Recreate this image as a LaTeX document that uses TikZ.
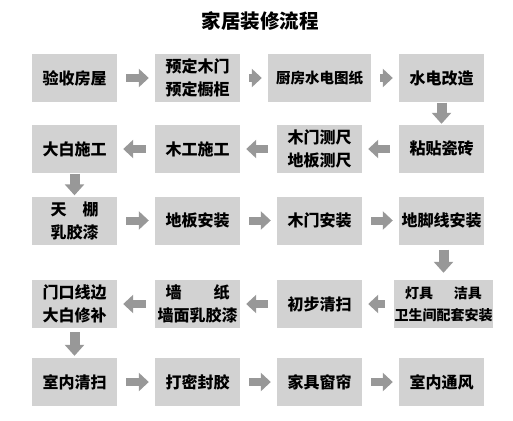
\documentclass[tikz,border=0pt]{standalone}
\usepackage{fontspec}
\setmainfont{Noto Sans CJK SC}
\usetikzlibrary{arrows.meta}
\definecolor{boxgray}{RGB}{210,210,210}
\definecolor{arrowgray}{RGB}{152,152,152}
\tikzset{
  stepbox/.style={fill=boxgray, minimum width=85pt, minimum height=48pt, inner sep=0pt,
    align=center, font=\fontsize{16}{23}\selectfont\bfseries},
  harrow/.style={draw=arrowgray, line width=8pt, -{Triangle[width=18pt,length=10pt]},
    shorten <=9pt, shorten >=6pt},
  varrow/.style={draw=arrowgray, line width=10pt, -{Triangle[width=19pt,length=11pt]},
    shorten <=0.5pt, shorten >=1pt}
}
\begin{document}
\begin{tikzpicture}[x=1pt,y=-1pt]
\useasboundingbox (0,0) rectangle (513,420);
% Title
\node[font=\fontsize{19.5}{24}\selectfont\bfseries] (title) at (260,21.5) {家居装修流程};

% Row 1
\node[stepbox] (yanshou) at (74.5,78) {验收房屋};
\node[stepbox] (yuding) at (197.5,78) {预定木门\\预定橱柜};
\node[stepbox, minimum width=103pt, font=\fontsize{14.5}{20}\selectfont\bfseries] (tuzhi) at (319.5,78) {厨房水电图纸};
\node[stepbox] (shuidian) at (441.5,78) {水电改造};

% Row 2
\node[stepbox] (cizhuan) at (441.5,149) {粘贴瓷砖};
\node[stepbox] (cechi) at (319.5,149) {木门测尺\\地板测尺};
\node[stepbox] (mugong) at (197.5,149) {木工施工};
\node[stepbox] (dabai) at (74.5,149) {大白施工};

% Row 3
\node[stepbox] (tianpeng) at (74.5,220.5) {天\hspace{1em}棚\\乳胶漆};
\node[stepbox] (diban) at (197.5,220.5) {地板安装};
\node[stepbox] (mumen) at (319.5,220.5) {木门安装};
\node[stepbox] (dijiao) at (441.5,220.5) {地脚线安装};

% Row 4
\node[stepbox, minimum width=99pt, font=\fontsize{14}{22}\selectfont\bfseries] (dengju) at (443.5,304) {灯具\hspace{1.5em}洁具\\卫生间配套安装};
\node[stepbox] (chubu) at (319.5,304) {初步清扫};
\node[stepbox] (qiangzhi) at (197.5,304) {墙\hspace{2em}纸\\墙面乳胶漆};
\node[stepbox] (menkou) at (74.5,304) {门口线边\\大白修补};

% Row 5
\node[stepbox] (qingsao) at (74.5,382) {室内清扫};
\node[stepbox] (mifeng) at (197.5,382) {打密封胶};
\node[stepbox] (jiaju) at (319.5,382) {家具窗帘};
\node[stepbox] (tongfeng) at (441.5,382) {室内通风};

% Connections
\draw[harrow] (yanshou) -- (yuding);
\draw[harrow] (yuding) -- (tuzhi);
\draw[harrow] (tuzhi) -- (shuidian);
\draw[varrow] (shuidian) -- (cizhuan);
\draw[harrow] (cizhuan) -- (cechi);
\draw[harrow] (cechi) -- (mugong);
\draw[harrow] (mugong) -- (dabai);
\draw[varrow] (dabai) -- (tianpeng);
\draw[harrow] (tianpeng) -- (diban);
\draw[harrow] (diban) -- (mumen);
\draw[harrow] (mumen) -- (dijiao);
\draw[varrow, shorten <=5pt, shorten >=7pt] (dijiao.south) ++(2,0) coordinate (dj) -- (dj |- dengju.north);
\draw[harrow] (dengju) -- (chubu);
\draw[harrow] (chubu) -- (qiangzhi);
\draw[harrow] (qiangzhi) -- (menkou);
\draw[varrow, shorten <=4pt, shorten >=2pt] (menkou) -- (qingsao);
\draw[harrow] (qingsao) -- (mifeng);
\draw[harrow] (mifeng) -- (jiaju);
\draw[harrow] (jiaju) -- (tongfeng);
\end{tikzpicture}
\end{document}
